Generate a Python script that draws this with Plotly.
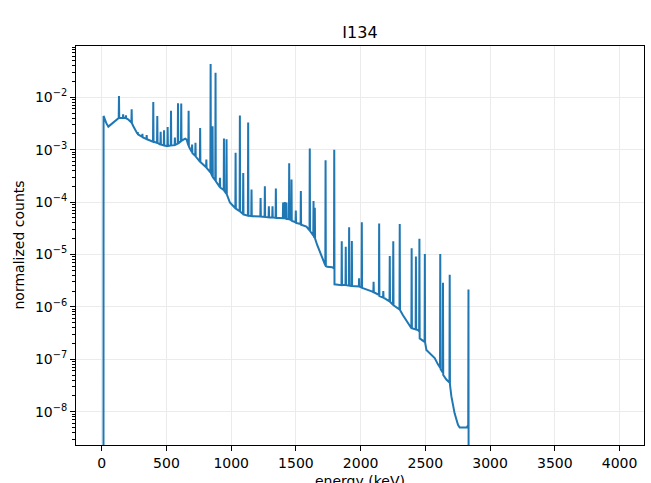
import plotly.graph_objects as go

# ---------------- data (I134 gamma spectrum) ----------------
# the spectrum is listed as a polyline: continuum points with narrow peaks (base, top, base)
FLOOR = 1e-12  # zero-count bins (drawn below the axis, like matplotlib's clipping)

energy_low_keV = [0, 13, 14, 20, 35, 51, 75, 103, 131, 133, 135, 163, 165, 167, 185, 187, 189,
                  203, 229, 231, 233, 244, 276, 278, 280, 312, 314, 316, 345, 347, 349,
                  396, 398, 400, 427, 429, 431, 453, 455, 457, 479, 481, 483, 501, 507, 509, 511,
                  533, 535, 537, 563, 565, 567, 587, 589, 591, 612, 614, 616, 645, 656,
                  669, 671, 673, 681, 696, 698, 700, 722, 724, 726]
counts_low = [FLOOR, FLOOR, 4.4e-3, 4.0e-3, 3.2e-3, 2.75e-3, 3.1e-3, 3.5e-3, 4.0e-3, 1.06e-2, 4.0e-3,
              4.0e-3, 4.7e-3, 4.0e-3, 4.0e-3, 4.5e-3, 3.95e-3,
              3.8e-3, 3.3e-3, 5.9e-3, 3.2e-3, 2.8e-3, 2.0e-3, 2.15e-3, 1.95e-3, 1.75e-3, 2.0e-3, 1.72e-3,
              1.6e-3, 1.9e-3, 1.58e-3,
              1.42e-3, 8.1e-3, 1.42e-3, 1.35e-3, 4.4e-3, 1.35e-3, 1.25e-3, 2.2e-3, 1.25e-3,
              1.2e-3, 2.35e-3, 1.2e-3, 1.17e-3, 1.17e-3, 2.7e-3, 1.17e-3,
              1.2e-3, 5.5e-3, 1.2e-3, 1.22e-3, 1.7e-3, 1.23e-3, 1.3e-3, 7.7e-3, 1.32e-3,
              1.45e-3, 7.6e-3, 1.48e-3, 1.62e-3, 1.55e-3,
              1.2e-3, 5.5e-3, 1.15e-3, 1.05e-3, 9.0e-4, 1.25e-3, 8.6e-4, 7.6e-4, 1.35e-3, 7.4e-4]

energy_mid_keV = [758, 760, 762, 806, 808, 810, 839, 841, 843, 854, 856, 858, 877, 879, 881,
                  911, 913, 915, 942, 944, 946, 962, 964, 966, 990,
                  1032, 1034, 1036, 1065, 1067, 1069, 1091, 1093, 1095, 1129, 1131, 1133,
                  1155, 1157, 1159, 1225, 1227, 1229, 1258, 1260, 1262, 1289, 1291, 1293,
                  1317, 1319, 1321, 1343, 1345, 1347, 1399, 1401, 1403, 1412, 1414, 1416,
                  1425, 1427, 1429, 1446, 1448, 1450, 1464, 1466, 1468, 1497, 1499, 1501,
                  1536, 1538, 1540, 1581, 1605, 1607, 1609, 1634, 1636, 1638, 1644, 1646, 1648,
                  1665, 1706, 1727, 1729, 1731, 1742, 1780, 1794, 1796, 1798]
counts_mid = [5.9e-4, 2.6e-3, 5.8e-4, 4.6e-4, 6.5e-4, 4.5e-4, 3.7e-4, 4.3e-2, 3.6e-4,
              3.1e-4, 2.8e-3, 3.0e-4, 2.6e-4, 2.95e-2, 2.5e-4,
              1.95e-4, 2.9e-4, 1.9e-4, 1.7e-4, 1.64e-3, 1.65e-4, 1.45e-4, 1.58e-3, 1.4e-4, 9.8e-5,
              7.6e-5, 8.7e-4, 7.5e-5, 6.7e-5, 4.5e-3, 6.6e-5, 5.9e-5, 3.6e-4, 5.8e-5,
              5.5e-5, 3.3e-3, 5.5e-5,
              5.4e-5, 1.74e-4, 5.4e-5, 5.3e-5, 1.2e-4, 5.3e-5, 5.2e-5, 2.0e-4, 5.2e-5,
              5.1e-5, 8.3e-5, 5.1e-5,
              5.1e-5, 8.3e-5, 5.1e-5, 5.0e-5, 1.82e-4, 5.0e-5, 4.9e-5, 9.8e-5, 4.9e-5,
              4.9e-5, 1.0e-4, 4.9e-5,
              4.8e-5, 9.8e-5, 4.8e-5, 4.7e-5, 5.5e-4, 4.7e-5, 4.5e-5, 2.7e-4, 4.4e-5,
              4.1e-5, 6.9e-5, 4.0e-5,
              3.8e-5, 1.62e-4, 3.7e-5, 3.4e-5, 2.9e-5, 1.05e-3, 2.8e-5, 2.3e-5, 1.05e-4, 2.2e-5,
              2.1e-5, 7.8e-5, 2.0e-5,
              1.5e-5, 7.9e-6, 6.2e-6, 6.3e-4, 6.0e-6, 5.8e-6, 5.7e-6, 5.4e-6, 1.0e-3, 2.7e-6]

energy_high_keV = [1852, 1854, 1856, 1883, 1885, 1887, 1909, 1911, 1913, 1930, 1932, 1934,
                   1986, 1988, 1990, 2007, 2009, 2011, 2091, 2098, 2100, 2102,
                   2141, 2143, 2145, 2173, 2175, 2177, 2223, 2225, 2227, 2250, 2252, 2254,
                   2300, 2302, 2304, 2327, 2379, 2392, 2394, 2396, 2425, 2427, 2429, 2443,
                   2452, 2454, 2456, 2494, 2496, 2498, 2508, 2572, 2597,
                   2613, 2615, 2617, 2634, 2636, 2638, 2662, 2686, 2688, 2690,
                   2701, 2726, 2752, 2765, 2820, 2831, 2833, 2835, 3990]
counts_high = [2.6e-6, 1.78e-5, 2.6e-6, 2.6e-6, 1.41e-5, 2.6e-6, 2.55e-6, 3.3e-5, 2.55e-6,
               2.5e-6, 1.8e-5, 2.5e-6,
               2.45e-6, 3.5e-6, 2.45e-6, 2.35e-6, 4.1e-5, 2.3e-6, 1.95e-6, 1.9e-6, 3.0e-6, 1.9e-6,
               1.7e-6, 3.9e-5, 1.6e-6, 1.5e-6, 2.0e-6, 1.5e-6, 1.27e-6, 9.3e-6, 1.25e-6,
               1.1e-6, 1.78e-5, 1.07e-6,
               8.9e-7, 3.8e-5, 8.7e-7, 6.9e-7, 4.2e-7, 3.9e-7, 1.32e-5, 3.9e-7, 3.7e-7, 9.1e-6, 3.7e-7,
               3.6e-7,
               3.4e-7, 2.0e-5, 2.5e-7, 2.15e-7, 1.02e-5, 2.1e-7, 1.5e-7, 1.05e-7, 8.0e-8,
               7.0e-8, 1.02e-5, 6.5e-8, 5.6e-8, 2.9e-6, 5.0e-8, 4.1e-8, 3.6e-8, 4.1e-6, 3.3e-8,
               1.95e-8, 9.3e-9, 5.6e-9, 5.0e-9, 5.0e-9, 5.6e-9, 2.15e-6, FLOOR, FLOOR]

x_ticks = [0, 500, 1000, 1500, 2000, 2500, 3000, 3500, 4000]
y_tick_exponents = [-8, -7, -6, -5, -4, -3, -2]

title_text = "I134"
x_label = "energy (keV)"
y_label = "normalized counts"

# ---------------- figure ----------------
energy = energy_low_keV + energy_mid_keV + energy_high_keV
counts = counts_low + counts_mid + counts_high

FONT = "DejaVu Sans"
W, H = 651, 483
L, R, T, B = 76, 7, 46, 38

fig = go.Figure(go.Scatter(x=energy, y=counts, mode="lines",
                           line=dict(color="#1f77b4", width=2), showlegend=False))

minor_vals = [m * 10.0 ** k for k in range(-10, 0) for m in range(2, 10)]

fig.update_layout(
    width=W, height=H,
    margin=dict(l=L, r=R, t=T, b=B, autoexpand=False),
    paper_bgcolor="white", plot_bgcolor="white",
    font=dict(family=FONT, size=14, color="black"),
    title=dict(text=title_text, x=(L + (W - L - R) / 2) / W, xanchor="center",
               y=1 - 32 / H, yanchor="middle", font=dict(size=16, family=FONT, color="black")),
    xaxis=dict(range=[-199, 4189], tickmode="array", tickvals=x_ticks,
               ticktext=[str(v) for v in x_ticks],
               showgrid=True, gridcolor="#ebebeb", gridwidth=1, zeroline=False,
               showline=True, linecolor="black", linewidth=1, mirror=True,
               ticks="outside", ticklen=5, tickwidth=1, tickcolor="black",
               tickfont=dict(size=14, family=FONT)),
    yaxis=dict(type="log", range=[-8.636, -1.022], tickmode="array",
               tickvals=[10.0 ** e for e in y_tick_exponents],
               ticktext=["10<sup>\u2212%d</sup>" % (-e) for e in y_tick_exponents],
               showgrid=True, gridcolor="#ebebeb", gridwidth=1, zeroline=False,
               showline=True, linecolor="black", linewidth=1, mirror=True,
               ticks="outside", ticklen=5, tickwidth=1, tickcolor="black",
               tickfont=dict(size=14, family=FONT),
               minor=dict(tickmode="array", tickvals=minor_vals, ticks="outside",
                          ticklen=3, tickwidth=0.8, tickcolor="black", showgrid=False)),
    annotations=[
        dict(text=y_label, xref="paper", yref="paper", x=(18 - L) / (W - L - R), y=0.5,
             xanchor="center", yanchor="middle", textangle=-90, showarrow=False,
             font=dict(size=14, family=FONT)),
        dict(text=x_label, xref="paper", yref="paper", x=0.5,
             y=-(481 - (H - B)) / (H - T - B), xanchor="center", yanchor="middle",
             showarrow=False, font=dict(size=14, family=FONT)),
    ],
)

fig.write_html("out.html")
